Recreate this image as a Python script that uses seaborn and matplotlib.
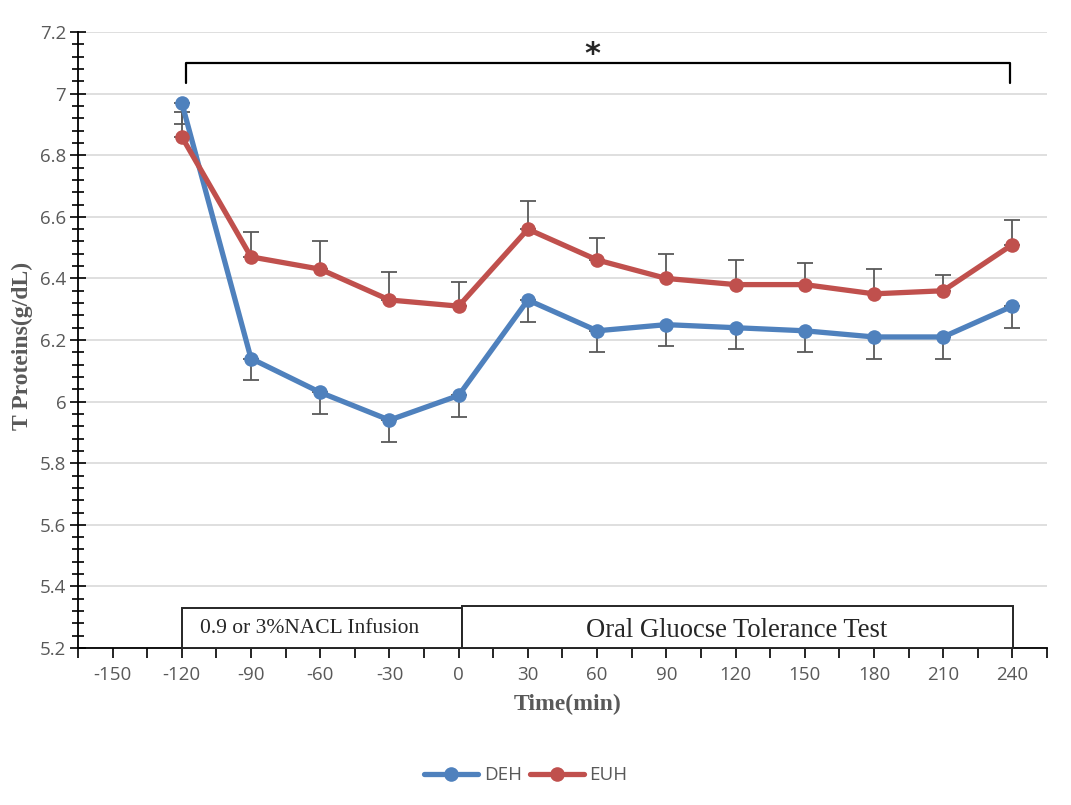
import numpy as np
import pandas as pd
import matplotlib
matplotlib.use("Agg")
import matplotlib.pyplot as plt
import seaborn as sns
from matplotlib.patches import Rectangle
from matplotlib.ticker import FixedLocator, MultipleLocator, FuncFormatter

# values
time_min = [-120, -90, -60, -30, 0, 30, 60, 90, 120, 150, 180, 210, 240]
deh_mean = [6.97, 6.14, 6.03, 5.94, 6.02, 6.33, 6.23, 6.25, 6.24, 6.23, 6.21, 6.21, 6.31]
deh_err = [0.07, 0.07, 0.07, 0.07, 0.07, 0.07, 0.07, 0.07, 0.07, 0.07, 0.07, 0.07, 0.07]
euh_mean = [6.86, 6.47, 6.43, 6.33, 6.31, 6.56, 6.46, 6.40, 6.38, 6.38, 6.35, 6.36, 6.51]
euh_err = [0.08, 0.08, 0.09, 0.09, 0.08, 0.09, 0.07, 0.08, 0.08, 0.07, 0.08, 0.05, 0.08]
groups = ["DEH", "EUH"]
colors = {"DEH": "#4F81BD", "EUH": "#C0504D"}

infusion_label = "0.9 or 3%NACL Infusion"
ogtt_label = "Oral Gluocse Tolerance Test"

sns.set_theme(style="ticks")
plt.rcParams["font.family"] = ["Open Sans", "DejaVu Sans"]
plt.rcParams["axes.unicode_minus"] = False

df = pd.DataFrame({
    "Time": time_min + time_min,
    "Value": deh_mean + euh_mean,
    "Group": [groups[0]] * len(time_min) + [groups[1]] * len(time_min),
})

fig = plt.figure(figsize=(10.71, 8.05), dpi=100)
ax = fig.add_axes([0.0728, 0.195, 0.9048, 0.7652])

sns.lineplot(data=df, x="Time", y="Value", hue="Group", palette=colors,
             marker="o", markersize=10.5, linewidth=3.8, markeredgewidth=0,
             legend=False, ax=ax, zorder=3)
handles = list(ax.lines[:2])

# one-sided error bars: DEH downward, EUH upward
no_err = np.zeros(len(time_min))
ax.errorbar(time_min, deh_mean, yerr=[deh_err, no_err], fmt="none",
            ecolor="#595959", elinewidth=1.3, capsize=6, capthick=1.3, zorder=2)
ax.errorbar(time_min, euh_mean, yerr=[no_err, euh_err], fmt="none",
            ecolor="#595959", elinewidth=1.3, capsize=6, capthick=1.3, zorder=2)

ax.set_xlim(-165, 255)
ax.set_ylim(5.2, 7.2)

ax.xaxis.set_major_locator(FixedLocator(list(range(-150, 241, 30))))
ax.xaxis.set_minor_locator(FixedLocator(list(range(-165, 256, 30))))
ax.yaxis.set_major_locator(MultipleLocator(0.2))
ax.yaxis.set_minor_locator(MultipleLocator(0.04))
ax.yaxis.set_major_formatter(FuncFormatter(lambda v, p: f"{round(v, 2):g}"))

ax.tick_params(axis="x", which="both", direction="out", length=7, width=1.2,
               color="black", bottom=True)
ax.tick_params(axis="x", which="major", labelsize=13.5, labelcolor="#595959", pad=6)
ax.tick_params(axis="y", which="major", direction="inout", length=11, width=1.2,
               color="black", left=True, labelsize=13.5, labelcolor="#595959", pad=3)
ax.tick_params(axis="y", which="minor", direction="inout", length=8, width=1.2,
               color="black", left=True)

ax.yaxis.grid(True, color="#d9d9d9", linewidth=1.2)
ax.xaxis.grid(False)
ax.set_axisbelow(True)
sns.despine(ax=ax)
for side in ["left", "bottom"]:
    ax.spines[side].set_color("black")
    ax.spines[side].set_linewidth(1.3)

serif = ["Liberation Serif", "DejaVu Serif"]
ax.set_xlabel("Time(min)", fontsize=17, fontweight="bold", family=serif, color="#595959")
ax.set_ylabel("T Proteins(g/dL)", fontsize=17, fontweight="bold", family=serif, color="#595959")
ax.xaxis.set_label_coords(0.505, -0.075)
ax.yaxis.set_label_coords(-0.046, 0.49)

# phase boxes along the bottom
ax.add_patch(Rectangle((-120, 5.2), 121.3, 0.13, facecolor="white",
                       edgecolor="#262626", linewidth=1.4, zorder=4, clip_on=False))
ax.add_patch(Rectangle((1.3, 5.2), 239.1, 0.136, facecolor="white",
                       edgecolor="#262626", linewidth=1.4, zorder=4, clip_on=False))
ax.text(-112, 5.262, infusion_label, fontsize=15.5, family=serif,
        ha="left", va="center", zorder=5)
ax.text(120.6, 5.258, ogtt_label, fontsize=19.2, family=serif,
        ha="center", va="center", zorder=5)

# significance bracket
ax.plot([-118, -118, 239, 239], [7.035, 7.10, 7.10, 7.035], color="black",
        linewidth=1.6, zorder=4, clip_on=False)
ax.text(58, 7.128, "*", fontsize=22, fontweight="bold", ha="center", va="center",
        family=["DejaVu Sans"], zorder=5)

leg = fig.legend(handles=handles, labels=groups, loc="center",
                 bbox_to_anchor=(0.491, 0.037), ncol=2, frameon=False,
                 fontsize=13.5, handlelength=2.9, handletextpad=0.3, columnspacing=0.4)
for t in leg.get_texts():
    t.set_color("#595959")

fig.savefig("out.png", dpi=100)
